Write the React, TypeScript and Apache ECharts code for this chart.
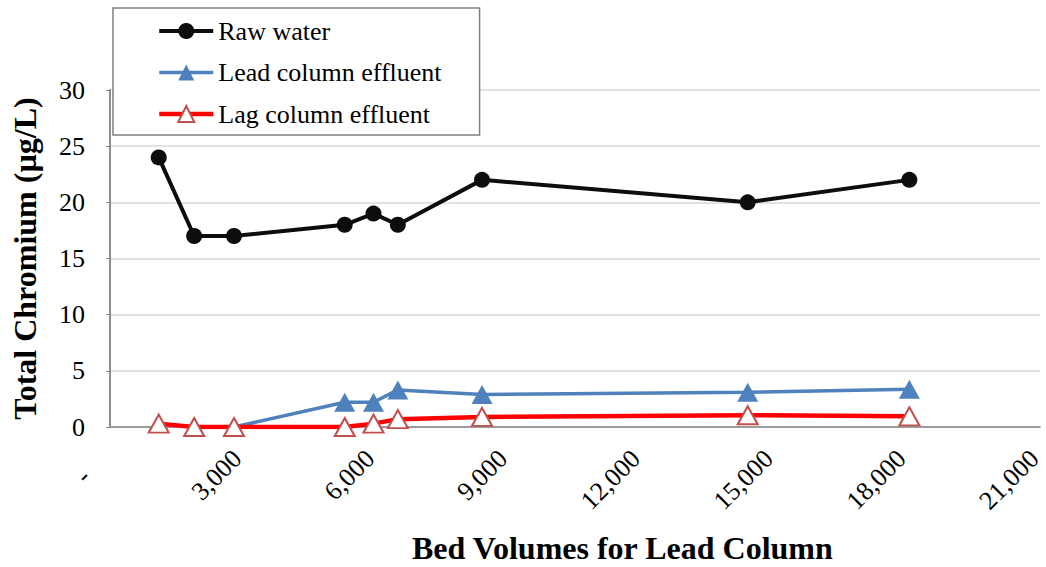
import React, { useEffect, useRef } from "react";
import * as echarts from "echarts";

const bedVolumes = [1100, 1900, 2800, 5300, 5950, 6500, 8400, 14400, 18050];
const rawWater = [24, 17, 17, 18, 19, 18, 22, 20, 22];
const leadEffluent: (number | null)[] = [null, null, 0, 2.2, 2.2, 3.3, 2.9, 3.1, 3.35];
const lagEffluent = [0.3, 0, 0, 0, 0.3, 0.7, 0.9, 1.05, 0.95];
const xTicks = [0, 3000, 6000, 9000, 12000, 15000, 18000, 21000];
const yTicks = [0, 5, 10, 15, 20, 25, 30];

const FONT = "Liberation Serif";

function pairs(xs: number[], ys: (number | null)[]) {
  const out: [number, number][] = [];
  xs.forEach((x, i) => {
    const y = ys[i];
    if (y !== null && y !== undefined) out.push([x, y]);
  });
  return out;
}

function fmt(v: number) {
  if (v === 0) return "-\u00a0\u00a0\u00a0\u00a0";
  return String(v).replace(/\B(?=(\d{3})+(?!\d))/g, ",");
}

export default function App() {
  const ref = useRef<HTMLDivElement>(null);
  useEffect(() => {
    if (!ref.current) return;
    const chart = echarts.init(ref.current, undefined, { renderer: "svg" });
    const xMax = xTicks[xTicks.length - 1];
    const yMax = yTicks[yTicks.length - 1];
    chart.setOption({
      animation: false,
      backgroundColor: "#ffffff",
      textStyle: { fontFamily: FONT },
      grid: { left: 110, right: 6, top: 90, bottom: 140, outerBoundsMode: "none", containLabel: false },
      legend: {
        orient: "vertical",
        left: 113,
        top: 8,
        padding: [10, 38, 8, 44],
        backgroundColor: "#ffffff",
        borderColor: "#808080",
        borderWidth: 1.5,
        itemWidth: 54,
        itemHeight: 20,
        itemGap: 15.5,
        lineStyle: { width: "inherit" },
        textStyle: { fontFamily: FONT, fontSize: 26, color: "#000", lineHeight: 26 },
        data: ["Raw water", "Lead column effluent", "Lag column effluent"],
        z: 10,
      },
      xAxis: [
        {
          type: "value",
          min: 0,
          max: xMax,
          interval: 3000,
          axisLine: { show: true, lineStyle: { color: "#d9d9d9", width: 1.5 } },
          axisTick: { show: false },
          splitLine: { show: false },
          axisLabel: {
            rotate: 45,
            margin: 33,
            verticalAlign: "bottom",
            lineHeight: 16,
            fontFamily: FONT,
            fontSize: 26,
            color: "#000",
            formatter: (v: number) => fmt(v),
          },
        },
        {
          type: "value",
          position: "top",
          min: 0,
          max: xMax,
          axisLine: { show: true, lineStyle: { color: "#868686", width: 1.5 } },
          axisTick: { show: false },
          axisLabel: { show: false },
          splitLine: { show: false },
        },
      ],
      yAxis: [
        {
          type: "value",
          min: 0,
          max: yMax,
          interval: 5,
          name: "Total Chromium (µg/L)",
          nameLocation: "middle",
          nameGap: 69,
          nameRotate: 90,
          nameTextStyle: { fontFamily: FONT, fontSize: 32, fontWeight: "bold", color: "#000" },
          axisLine: { show: true, lineStyle: { color: "#868686", width: 1.5 } },
          axisTick: { show: true, inside: false, length: 4, lineStyle: { color: "#868686" } },
          splitLine: { show: true, lineStyle: { color: "#d9d9d9", width: 1.5 } },
          axisLabel: { margin: 25, fontFamily: FONT, fontSize: 26, color: "#000" },
        },
        {
          type: "value",
          position: "right",
          min: 0,
          max: yMax,
          axisLine: { show: true, lineStyle: { color: "#868686", width: 1.5 } },
          axisTick: { show: false },
          axisLabel: { show: false },
          splitLine: { show: false },
        },
      ],
      graphic: [
        {
          type: "text",
          left: 412,
          top: 532,
          style: {
            text: "Bed Volumes for Lead Column",
            font: `bold 32px ${FONT}`,
            fill: "#000",
          },
        },
      ],
      series: [
        {
          name: "Raw water",
          type: "line",
          data: pairs(bedVolumes, rawWater),
          symbol: "circle",
          symbolSize: 16,
          lineStyle: { color: "#0d0d0d", width: 4 },
          itemStyle: { color: "#0d0d0d" },
        },
        {
          name: "Lead column effluent",
          type: "line",
          data: pairs(bedVolumes, leadEffluent),
          symbol: "triangle",
          symbolSize: [21, 19],
          lineStyle: { color: "#4f81bd", width: 3.5 },
          itemStyle: { color: "#4f81bd" },
        },
        {
          name: "Lag column effluent",
          type: "line",
          data: pairs(bedVolumes, lagEffluent),
          symbol: "triangle",
          symbolSize: [20, 18],
          lineStyle: { color: "#ff0000", width: 4.5 },
          itemStyle: { color: "#ffffff", borderColor: "#c0504d", borderWidth: 2 },
        },
      ],
    });
    return () => chart.dispose();
  }, []);
  return <div ref={ref} style={{ width: 1046, height: 567, position: "fixed", left: 0, top: 0 }} />;
}
